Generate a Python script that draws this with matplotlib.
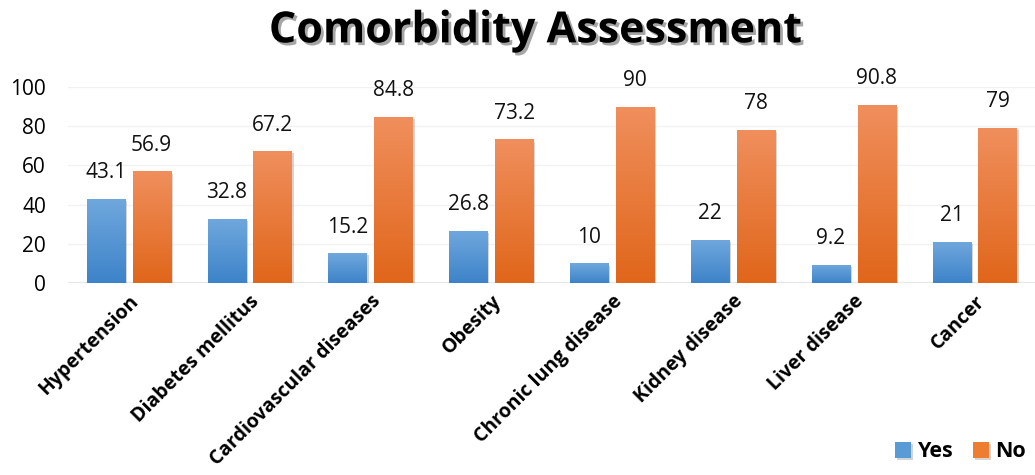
import numpy as np
import matplotlib.pyplot as plt
import matplotlib.patheffects as pe
from matplotlib.colors import LinearSegmentedColormap

categories = ['Hypertension', 'Diabetes mellitus', 'Cardiovascular diseases', 'Obesity',
              'Chronic lung disease', 'Kidney disease', 'Liver disease', 'Cancer']
yes_vals = [43.1, 32.8, 15.2, 26.8, 10, 22, 9.2, 21]
no_vals = [56.9, 67.2, 84.8, 73.2, 90, 78, 90.8, 79]
yticks = [0, 20, 40, 60, 80, 100]

plt.rcParams['font.family'] = ['Open Sans', 'DejaVu Sans']

fig = plt.figure(figsize=(10.35, 4.75), dpi=100)
ax = fig.add_axes([0.066, 0.404, 0.934, 0.413])

x = np.arange(len(categories))
w = 0.316
off = 0.19

blue_cm = LinearSegmentedColormap.from_list('b', ['#3d83c9', '#70a8dd'])
orange_cm = LinearSegmentedColormap.from_list('o', ['#e0661a', '#f08f5d'])
grad = np.linspace(0, 1, 256).reshape(-1, 1)


def gradient_bars(xs, vals, cmap, label, legend_color):
    bars = ax.bar(xs, vals, w, color=legend_color, label=label, zorder=2,
                  path_effects=[pe.SimplePatchShadow(offset=(1.5, -1.5), alpha=0.2), pe.Normal()])
    for b in bars:
        im = ax.imshow(grad, cmap=cmap, aspect='auto', origin='lower', zorder=3,
                       extent=[b.get_x(), b.get_x() + b.get_width(), 0, b.get_height()])
        im.set_clip_path(b)
    return bars


gradient_bars(x - off, yes_vals, blue_cm, 'Yes', '#5b9bd5')
gradient_bars(x + off, no_vals, orange_cm, 'No', '#ed7d31')

for xi, v in zip(x, yes_vals):
    ax.text(xi - off, v + 8, f'{v:g}', ha='center', va='bottom', fontsize=15, color='#111111')
for xi, v in zip(x, no_vals):
    ax.text(xi + off, v + 8, f'{v:g}', ha='center', va='bottom', fontsize=15, color='#111111')

ax.set_xlim(-0.5, 7.5)
ax.set_ylim(0, 100)
ax.set_yticks(yticks)
ax.tick_params(axis='y', length=0, labelsize=15, pad=16)
ax.tick_params(axis='x', length=0, pad=6)
ax.set_xticks(x)
ax.set_xticklabels(categories, rotation=45, ha='right', rotation_mode='anchor',
                   fontsize=14, fontweight='bold')
ax.grid(axis='y', color='#f2f2f2', linewidth=1, zorder=0)
ax.set_axisbelow(True)
for s in ax.spines.values():
    s.set_visible(False)
ax.axhline(0, color='#e6e6e6', linewidth=1.5, zorder=1)

fig.text(0.517, 0.935, 'Comorbidity Assessment', ha='center', va='center',
         fontsize=31, fontweight='bold',
         path_effects=[pe.withSimplePatchShadow(offset=(2, -2), alpha=0.35)])

ax.legend(loc='lower right', bbox_to_anchor=(1.01, -0.014), bbox_transform=fig.transFigure,
          frameon=False, ncol=2, handlelength=0.75, handleheight=0.75, handletextpad=0.3,
          columnspacing=0.9, prop={'weight': 'bold', 'size': 15.5})

fig.savefig('out.png', dpi=100)
